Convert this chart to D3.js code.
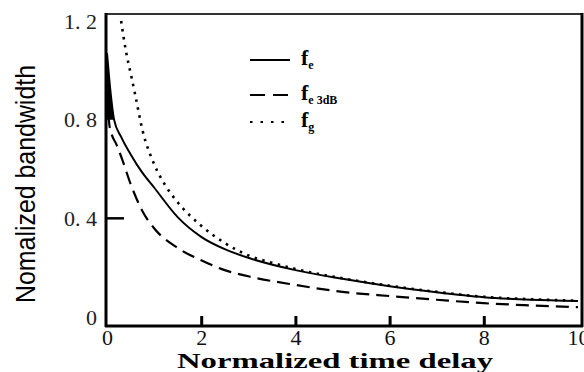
<!DOCTYPE html>
<html>
<head>
<meta charset="utf-8">
<script src="https://cdn.jsdelivr.net/npm/d3@7"></script>
<style>
  body { margin: 0; background: #fff; }
  svg { display: block; }
</style>
</head>
<body>
<script>
// values
var feDelay   = [0, 0.05, 0.15, 0.3, 0.5, 0.75, 1, 1.5, 2, 2.5, 3, 4, 5, 6, 7, 8, 9, 10];
var feVal     = [1.07, 0.96, 0.80, 0.73, 0.66, 0.585, 0.525, 0.405, 0.325, 0.275, 0.24, 0.19, 0.155, 0.125, 0.10, 0.08, 0.07, 0.065];

var fe3Delay  = [0, 0.05, 0.1, 0.2, 0.32, 0.5, 0.75, 1, 1.5, 2, 2.5, 3, 4, 5, 6, 7, 8, 9, 10];
var fe3Val    = [0.9, 0.78, 0.74, 0.70, 0.64, 0.54, 0.43, 0.36, 0.28, 0.23, 0.19, 0.165, 0.13, 0.102, 0.085, 0.07, 0.056, 0.047, 0.04];

var fgDelay   = [0.3, 0.4, 0.5, 0.6, 0.75, 1, 1.25, 1.5, 2, 2.5, 3, 3.5, 4, 5, 6, 7, 8, 9, 10];
var fgVal     = [1.2, 1.08, 0.99, 0.90, 0.76, 0.62, 0.53, 0.465, 0.37, 0.30, 0.25, 0.22, 0.195, 0.157, 0.127, 0.102, 0.082, 0.072, 0.066];

var xTicks = [0, 2, 4, 6, 8, 10];
var yTicks = [0, 0.4, 0.8, 1.2];
var yTickLabels = ["0", "0. 4", "0. 8", "1. 2"];

var w = 584, h = 372;

var svg = d3.select("body").append("svg")
            .attr("width", w)
            .attr("height", h);

var x = d3.scaleLinear().domain([0, 10]).range([107, 578]);
var y = d3.scaleLinear().domain([0, 1.2]).range([317, 21]);

var serif = "'Liberation Serif', 'Times New Roman', serif";

// frame
svg.append("line").attr("x1", 106).attr("x2", 583).attr("y1", 14).attr("y2", 14)
   .attr("stroke", "#333").attr("stroke-width", 2);
svg.append("line").attr("x1", 582).attr("x2", 582).attr("y1", 13).attr("y2", 327)
   .attr("stroke", "#000").attr("stroke-width", 3);

// x axis, ticks point inward
var xAxis = svg.append("g")
   .attr("transform", "translate(0,326)")
   .call(d3.axisBottom(x).tickValues(xTicks).tickSizeInner(-10).tickSizeOuter(0).tickPadding(3)
          .tickFormat(d3.format("d")));
xAxis.select(".domain").remove();
xAxis.selectAll(".tick line")
     .attr("stroke", "#000").attr("stroke-width", 3)
     .style("display", function(d){ return (d === 0 || d === 10) ? "none" : null; });
xAxis.selectAll(".tick text")
     .style("font-family", serif).style("font-size", "22px").attr("fill", "#111");

svg.append("line").attr("x1", 105).attr("x2", 583).attr("y1", 326).attr("y2", 326)
   .attr("stroke", "#000").attr("stroke-width", 3);

// y axis
var yAxis = svg.append("g")
   .attr("transform", "translate(106,0)")
   .call(d3.axisLeft(y).tickValues(yTicks).tickSize(0).tickPadding(9)
          .tickFormat(function(d, i){ return yTickLabels[i]; }));
yAxis.select(".domain").remove();
yAxis.selectAll(".tick text")
     .style("font-family", serif).style("font-size", "22px").attr("fill", "#222");

svg.append("line").attr("x1", 106).attr("x2", 124).attr("y1", y(0.4)).attr("y2", y(0.4))
   .attr("stroke", "#000").attr("stroke-width", 2.5);

svg.append("line").attr("x1", 106).attr("x2", 106).attr("y1", 13).attr("y2", 327)
   .attr("stroke", "#000").attr("stroke-width", 3);

// axis titles
svg.append("text")
   .attr("transform", "translate(35,184) rotate(-90)")
   .attr("text-anchor", "middle")
   .style("font-family", "'Liberation Sans', Arial, sans-serif")
   .style("font-size", "28px")
   .attr("textLength", 238)
   .attr("lengthAdjust", "spacingAndGlyphs")
   .text("Nomalized bandwidth");

svg.append("text")
   .attr("x", 335).attr("y", 368)
   .attr("text-anchor", "middle")
   .style("font-family", serif)
   .style("font-weight", "bold")
   .style("font-size", "21px")
   .attr("textLength", 316)
   .attr("lengthAdjust", "spacingAndGlyphs")
   .text("Normalized time delay");

// curves
function pts(xs, ys) { return xs.map(function(d, i){ return [d, ys[i]]; }); }

var line = d3.line()
   .x(function(d){ return x(d[0]); })
   .y(function(d){ return y(d[1]); })
   .curve(d3.curveMonotoneX);

// filled wedge near the origin where the curves crowd the axis
var wedge = d3.area()
   .x0(x(0))
   .x1(function(d){ return x(d[0]); })
   .y(function(d){ return y(d[1]); });
svg.append("path")
   .attr("d", wedge(pts(feDelay, feVal).filter(function(d){ return d[0] <= 0.15; })))
   .attr("fill", "#000");

svg.append("path")
   .attr("d", line(pts(fgDelay, fgVal)))
   .attr("fill", "none").attr("stroke", "#000").attr("stroke-width", 2.6)
   .attr("stroke-dasharray", "2.5,5.5");

svg.append("path")
   .attr("d", line(pts(fe3Delay, fe3Val)))
   .attr("fill", "none").attr("stroke", "#000").attr("stroke-width", 2.2)
   .attr("stroke-dasharray", "13,7");

svg.append("path")
   .attr("d", line(pts(feDelay, feVal)))
   .attr("fill", "none").attr("stroke", "#000").attr("stroke-width", 2);

// legend
var legend = [
  { y: 60,  dash: null,   sub: "e" },
  { y: 95,  dash: "15,8", sub: "e 3dB" },
  { y: 122, dash: "2.5,8", sub: "g" }
];

legend.forEach(function(d) {
  svg.append("line")
     .attr("x1", 250).attr("x2", 290).attr("y1", d.y).attr("y2", d.y)
     .attr("stroke", "#000").attr("stroke-width", 2)
     .attr("stroke-dasharray", d.dash);
  var t = svg.append("text")
     .attr("x", 301).attr("y", d.y + 5)
     .style("font-family", serif).style("font-weight", "bold")
     .style("font-size", "22px");
  t.append("tspan").text("f");
  t.append("tspan").attr("dy", 4).style("font-size", "12px").text(d.sub);
});
</script>
</body>
</html>
